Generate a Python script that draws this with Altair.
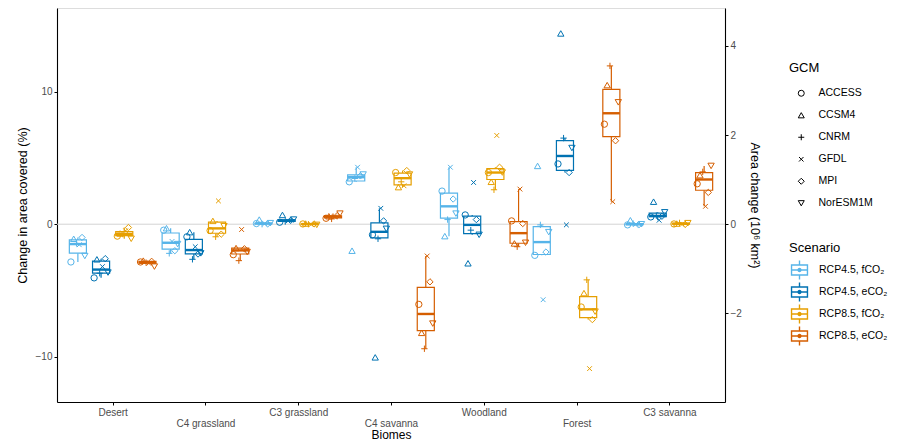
import json
import altair as alt
import numpy as np
import pandas as pd

# ---------------- data (% change in area) ----------------
BIOMES = ["Desert", "C4 grassland", "C3 grassland", "C4 savanna", "Woodland", "Forest", "C3 savanna"]
GCMS = ["ACCESS", "CCSM4", "CNRM", "GFDL", "MPI", "NorESM1M"]
SCENARIOS = ["RCP4.5, fCO₂", "RCP4.5, eCO₂", "RCP8.5, fCO₂", "RCP8.5, eCO₂"]
COLORS = ["#56B4E9", "#0072B2", "#E69F00", "#D55E00"]

# rows = biomes (in BIOMES order), columns = GCMs (in GCMS order)
RCP45_F = [
    [-2.85, -1.10, -1.45, -1.55, -1.00, -2.40],
    [-0.45, -0.30, -2.20, -1.30, -2.00, -1.50],
    [0.05, 0.35, 0.00, 0.05, 0.02, 0.08],
    [3.20, -2.00, 3.45, 4.30, 3.65, 3.75],
    [2.50, -0.90, 0.35, 4.30, 1.90, 0.80],
    [-2.35, 4.40, -0.05, -5.70, -2.10, -0.60],
    [-0.05, 0.30, 0.05, 0.00, -0.05, 0.00],
]
RCP45_E = [
    [-4.05, -2.65, -3.70, -3.20, -2.60, -3.65],
    [-0.95, -0.60, -2.65, -1.70, -2.25, -2.20],
    [0.15, 0.70, 0.20, 0.25, 0.30, 0.35],
    [-0.80, -10.05, -1.10, 1.20, 0.25, -0.35],
    [0.70, -2.95, -0.45, 3.15, 0.35, -0.80],
    [4.55, 14.40, 6.50, -0.05, 3.90, 5.75],
    [0.55, 1.70, 0.65, 0.30, 0.60, 0.90],
]
RCP85_F = [
    [-0.90, -0.70, -0.75, -0.50, -0.25, -1.10],
    [-0.48, 0.25, -0.95, 1.76, -0.75, -0.15],
    [0.02, 0.05, 0.00, -0.02, 0.02, -0.05],
    [3.90, 2.80, 3.20, 2.90, 4.05, 3.75],
    [3.90, 3.20, 2.60, 6.70, 4.30, 3.90],
    [-6.25, -5.20, -4.20, -10.90, -7.20, -6.60],
    [0.02, 0.05, 0.10, 0.00, -0.02, 0.08],
]
RCP85_E = [
    [-2.85, -2.75, -2.90, -2.95, -2.80, -3.20],
    [-2.30, -1.80, -2.75, -0.40, -1.85, -2.10],
    [0.45, 0.60, 0.40, 0.55, 0.65, 0.80],
    [-6.05, -8.20, -9.40, -2.40, -4.35, -7.50],
    [0.25, -1.45, -1.70, 2.65, 0.05, -1.40],
    [7.55, 10.50, 11.95, 1.70, 6.30, 9.20],
    [3.05, 3.70, 3.95, 1.35, 2.40, 4.40],
]
# % of area -> 10^6 km^2 conversion used by the secondary axis
PCT_PER_MKM2 = 3.366

SERIES = [RCP45_F, RCP45_E, RCP85_F, RCP85_E]

rows = []
for si, (scen, table) in enumerate(zip(SCENARIOS, SERIES)):
    for bi, (biome, vals) in enumerate(zip(BIOMES, table)):
        for gi, (gcm, v) in enumerate(zip(GCMS, vals)):
            rows.append(dict(biome=biome, bi=bi + 1, scenario=scen, si=si, gcm=gcm, gi=gi, value=v))
points = pd.DataFrame(rows)

stats = []
for (bi, si), g in points.groupby(["bi", "si"]):
    v = g["value"].to_numpy()
    q1, med, q3 = np.percentile(v, [25, 50, 75])
    iqr = q3 - q1
    lo = v[v >= q1 - 1.5 * iqr].min()
    hi = v[v <= q3 + 1.5 * iqr].max()
    stats.append(dict(bi=bi, si=si, scenario=SCENARIOS[si], q1=q1, median=med, q3=q3, lo=lo, hi=hi))
stats = pd.DataFrame(stats)

# ---------------- styling ----------------
FONT = "Liberation Sans"
W, H = 668, 394
YDOM = [-13.42, 16.32]
XDOM = [0.4, 7.6]
HALF = 0.092      # half box width (x units)
DODGE = 0.25      # scenario dodge
GDODGE = 0.03     # GCM dodge inside a box

xscale = alt.Scale(domain=XDOM, nice=False, zero=False)
yscale = alt.Scale(domain=YDOM, nice=False, zero=False)

arr = json.dumps(BIOMES)
label_expr = f"datum.value % 2 == 0 ? ['', {arr}[datum.value - 1]] : {arr}[datum.value - 1]"

x_axis = alt.Axis(values=list(range(1, len(BIOMES) + 1)), labelExpr=label_expr, title="Biomes",
                  grid=False, tickSize=3, labelPadding=2, labelLineHeight=11.5, labelOverlap=False,
                  labelFlush=False, labelFontSize=10, labelColor="#4D4D4D", titleFontSize=12,
                  titleFontWeight="normal", titleColor="black", titlePadding=1,
                  domainColor="black", tickColor="black", domainWidth=1.1)
y_axis = alt.Axis(values=[-10, 0, 10], title="Change in area covered (%)", grid=False, tickSize=3,
                  labelPadding=2, labelFontSize=10, labelColor="#4D4D4D", titleFontSize=12.5,
                  titleFontWeight="normal", titleColor="black", titlePadding=6,
                  domainColor="black", tickColor="black", domainWidth=1.1)

BOXPATH = ("M-0.92,-0.58H0.92V0.58H-0.92Z M-0.92,0H0.92 M0,-0.58V-1.1 M0,0.58V1.1 "
           "M0.17,0A0.17,0.17 0 1,1 -0.17,0A0.17,0.17 0 1,1 0.17,0")

color = alt.Color("scenario:N", scale=alt.Scale(domain=SCENARIOS, range=COLORS),
                  legend=alt.Legend(title="Scenario", orient="none", legendX=732, legendY=234,
                                    symbolType=BOXPATH, symbolSize=300, symbolStrokeWidth=1.4,
                                    symbolFillColor="transparent", symbolOffset=1, labelOffset=10,
                                    clipHeight=20, rowPadding=2, titlePadding=5, padding=0,
                                    labelFontSize=10.5, titleFontSize=13, titleFontWeight="normal",
                                    labelColor="black", titleColor="black"))

SHAPES = ["circle", "triangle-up", "M-1,0L1,0M0,-1L0,1",
          "M-0.75,-0.75L0.75,0.75M-0.75,0.75L0.75,-0.75", "diamond", "triangle-down"]
shape = alt.Shape("gcm:N", scale=alt.Scale(domain=GCMS, range=SHAPES),
                  legend=alt.Legend(title="GCM", orient="none", legendX=732, legendY=54,
                                    symbolStrokeColor="black", symbolSize=36, symbolStrokeWidth=1,
                                    symbolFillColor="transparent", symbolOffset=7, labelOffset=12,
                                    rowPadding=11, titlePadding=13, padding=0, labelFontSize=10.5,
                                    titleFontSize=13, titleFontWeight="normal", labelColor="black",
                                    titleColor="black"))

box_base = alt.Chart(stats).transform_calculate(
    xc=f"datum.bi + (datum.si - 1.5) * {DODGE}",
).transform_calculate(
    xl=f"datum.xc - {HALF}", xr=f"datum.xc + {HALF}"
)

zero = alt.Chart(pd.DataFrame({"z": [0]})).mark_rule(color="#D4D4D4", strokeWidth=1).encode(
    y=alt.Y("z:Q", scale=yscale, axis=y_axis)
)

whisk_up = box_base.mark_rule(strokeWidth=1.2).encode(
    x=alt.X("xc:Q", scale=xscale, axis=x_axis), y=alt.Y("q3:Q", scale=yscale), y2="hi:Q", color=color)
whisk_lo = box_base.mark_rule(strokeWidth=1.2).encode(
    x=alt.X("xc:Q", scale=xscale), y=alt.Y("q1:Q", scale=yscale), y2="lo:Q", color=color)
box_fill = box_base.mark_rect(fill="white").encode(
    x=alt.X("xl:Q", scale=xscale), x2="xr:Q", y=alt.Y("q1:Q", scale=yscale), y2="q3:Q")
box_line = box_base.mark_rect(filled=False, strokeWidth=1.2).encode(
    x=alt.X("xl:Q", scale=xscale), x2="xr:Q", y=alt.Y("q1:Q", scale=yscale), y2="q3:Q", color=color)
median = box_base.mark_rule(strokeWidth=2.4).encode(
    x=alt.X("xl:Q", scale=xscale), x2="xr:Q", y=alt.Y("median:Q", scale=yscale), color=color)

pts = alt.Chart(points).transform_calculate(
    xp=f"datum.bi + (datum.si - 1.5) * {DODGE} + (datum.gi - 2.5) * {GDODGE}"
).mark_point(filled=False, size=40, strokeWidth=1, opacity=1).encode(
    x=alt.X("xp:Q", scale=xscale), y=alt.Y("value:Q", scale=yscale), color=color, shape=shape)

main = alt.layer(zero, whisk_up, whisk_lo, box_fill, box_line, median, pts)

right = alt.Chart(pd.DataFrame({"a": [0]})).mark_rule(opacity=0).encode(
    y=alt.Y("a:Q",
            scale=alt.Scale(domain=[YDOM[0] / PCT_PER_MKM2, YDOM[1] / PCT_PER_MKM2], nice=False, zero=False),
            axis=alt.Axis(orient="right", values=[-2, 0, 2, 4], title="Area change (10⁶ km²)",
                          grid=False, tickSize=3, labelPadding=2, labelFontSize=10, labelColor="#4D4D4D",
                          titleFontSize=12.5, titleFontWeight="normal", titleColor="black",
                          titlePadding=6, domainColor="black", tickColor="black", domainWidth=1.1))
)

chart = alt.layer(main, right).resolve_scale(y="independent").properties(
    width=W, height=H,
    autosize=alt.AutoSizeParams(type="none"),
    padding={"left": 49, "top": 0, "right": 170, "bottom": 40},
).configure_view(stroke=None).configure(font=FONT)

chart.save("out.html", embed_options={"renderer": "svg", "actions": False})
